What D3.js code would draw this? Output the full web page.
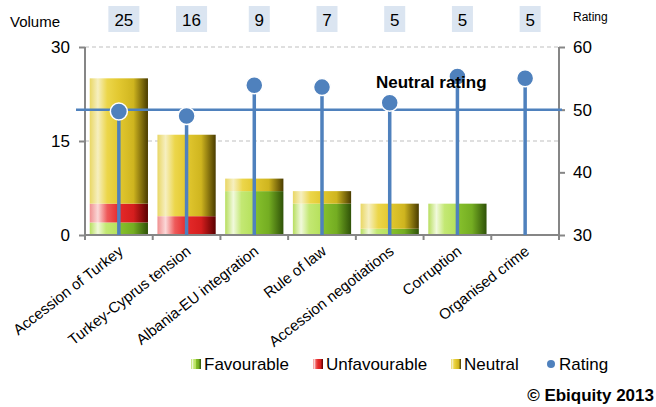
<!DOCTYPE html>
<html>
<head>
<meta charset="utf-8">
<script src="https://cdn.jsdelivr.net/npm/d3@7"></script>
<style>
  body { margin: 0; background: #fff; }
  text { font-family: "Liberation Sans", Arial, sans-serif; fill: #000; }
</style>
</head>
<body>
<script>
var width = 656;
var height = 407;

// data
var categories = ["Accession of Turkey", "Turkey-Cyprus tension", "Albania-EU integration",
                  "Rule of law", "Accession negotiations", "Corruption", "Organised crime"];
var favourable = [2, 0, 7, 5, 1, 5, 0];
var unfavourable = [3, 3, 0, 0, 0, 0, 0];
var neutral = [20, 13, 2, 2, 4, 0, 0];
var volume = [25, 16, 9, 7, 5, 5, 5];
var rating = [49.7, 49.0, 53.9, 53.6, 51.1, 55.3, 55.0];
var neutralRating = 50;
var volumeTicks = [0, 15, 30];
var ratingTicks = [30, 40, 50, 60];

var blue = "#4f81bd";
var plotLeft = 85, plotRight = 559, plotTop = 47, plotBottom = 235;

var svg = d3.select("body").append("svg")
    .attr("width", width)
    .attr("height", height);

// gradients
var defs = svg.append("defs");
function grad(id, stops) {
  var g = defs.append("linearGradient").attr("id", id)
      .attr("x1", "0%").attr("x2", "100%").attr("y1", "0%").attr("y2", "0%");
  stops.forEach(function (s) {
    g.append("stop").attr("offset", s[0]).attr("stop-color", s[1]);
  });
}
grad("gFav", [["0%", "#b7de5e"], ["14%", "#f1f9dc"], ["28%", "#c3e873"], ["50%", "#b5e05a"],
              ["52%", "#86c02c"], ["75%", "#74ad22"], ["100%", "#2f5208"]]);
grad("gUnf", [["0%", "#f09090"], ["14%", "#fbd8d8"], ["30%", "#ee5a5a"], ["50%", "#e52a2a"],
              ["75%", "#d51e1e"], ["100%", "#5a0000"]]);
grad("gNeu", [["0%", "#e9d764"], ["14%", "#f6efc0"], ["30%", "#ecd64a"], ["50%", "#e2c830"],
              ["75%", "#cfb51f"], ["100%", "#4a3c00"]]);

var x = d3.scaleBand().domain(categories).range([plotLeft, plotRight]).paddingInner(0.14).paddingOuter(0.07);
var xb = d3.scaleBand().domain(categories).range([plotLeft, plotRight]);
var y = d3.scaleLinear().domain([0, 30]).range([plotBottom, plotTop]);
var y2 = d3.scaleLinear().domain([30, 60]).range([plotBottom, plotTop]);

// gridlines
svg.append("g").selectAll("line")
    .data(volumeTicks.filter(function (d) { return d > 0; }))
  .enter().append("line")
    .attr("x1", plotLeft).attr("x2", plotRight)
    .attr("y1", function (d) { return y(d); })
    .attr("y2", function (d) { return y(d); })
    .style("stroke", "#bfbfbf")
    .style("stroke-dasharray", "4,3");

// stacked bars
var series = [
  { key: "Favourable", values: favourable, fill: "url(#gFav)" },
  { key: "Unfavourable", values: unfavourable, fill: "url(#gUnf)" },
  { key: "Neutral", values: neutral, fill: "url(#gNeu)" }
];
var base = categories.map(function () { return 0; });
series.forEach(function (s) {
  var rows = categories.map(function (c, i) {
    var r = { cat: c, y0: base[i], y1: base[i] + s.values[i] };
    base[i] = r.y1;
    return r;
  });
  svg.append("g").selectAll("rect")
      .data(rows.filter(function (r) { return r.y1 > r.y0; }))
    .enter().append("rect")
      .attr("x", function (d) { return x(d.cat); })
      .attr("width", x.bandwidth())
      .attr("y", function (d) { return y(d.y1); })
      .attr("height", function (d) { return y(d.y0) - y(d.y1); })
      .style("fill", s.fill);
});

// axes
var axisColor = "#868686";
var yAxis = svg.append("g")
    .attr("transform", "translate(" + plotLeft + ",0)")
    .call(d3.axisLeft(y).tickValues(volumeTicks).tickSize(6).tickPadding(9));
var y2Axis = svg.append("g")
    .attr("transform", "translate(" + plotRight + ",0)")
    .call(d3.axisRight(y2).tickValues(ratingTicks).tickSize(6).tickPadding(8));
var xAxis = svg.append("g")
    .attr("transform", "translate(0," + plotBottom + ")");
xAxis.append("line").attr("x1", plotLeft).attr("x2", plotRight).attr("y1", 0).attr("y2", 0);
xAxis.selectAll(".tk")
    .data(categories.concat(["end"]))
  .enter().append("line")
    .attr("class", "tk")
    .attr("x1", function (d, i) { return plotLeft + i * xb.step(); })
    .attr("x2", function (d, i) { return plotLeft + i * xb.step(); })
    .attr("y1", 0).attr("y2", 5);
xAxis.selectAll("line").style("stroke", axisColor).style("stroke-width", 2);

[yAxis, y2Axis].forEach(function (a) {
  a.select(".domain").remove();
  a.selectAll("line").style("stroke", axisColor).style("stroke-width", 2);
  a.selectAll("text").style("font-size", "17px").style("font-family", "Liberation Sans, Arial, sans-serif");
});
yAxis.append("line").attr("x1", 0).attr("x2", 0).attr("y1", plotTop).attr("y2", plotBottom + 1)
    .style("stroke", axisColor).style("stroke-width", 2);
y2Axis.append("line").attr("x1", 0).attr("x2", 0).attr("y1", plotTop).attr("y2", plotBottom + 1)
    .style("stroke", axisColor).style("stroke-width", 2);

// x labels
svg.append("g").selectAll("text")
    .data(categories)
  .enter().append("text")
    .attr("transform", function (d) {
      return "translate(" + (xb(d) + xb.bandwidth() / 2 + 2) + "," + (plotBottom + 14) + ") rotate(-38)";
    })
    .attr("text-anchor", "end")
    .attr("dy", "0.35em")
    .style("font-size", "15px")
    .text(function (d) { return d; });

// neutral rating line
svg.append("line")
    .attr("x1", 76).attr("x2", plotRight + 3)
    .attr("y1", y2(neutralRating)).attr("y2", y2(neutralRating))
    .style("stroke", blue).style("stroke-width", 2.5);

// rating stems and dots
var cx = function (d, i) { return xb(categories[i]) + xb.bandwidth() / 2; };
svg.append("g").selectAll("line")
    .data(rating)
  .enter().append("line")
    .attr("x1", cx).attr("x2", cx)
    .attr("y1", function (d) { return y2(d); })
    .attr("y2", plotBottom)
    .style("stroke", blue).style("stroke-width", 3.5);
svg.append("g").selectAll("circle")
    .data(rating)
  .enter().append("circle")
    .attr("cx", cx)
    .attr("cy", function (d) { return y2(d); })
    .attr("r", 8.5)
    .style("fill", blue)
    .style("stroke", "#fff")
    .style("stroke-width", 1.5);

svg.append("text")
    .attr("x", 376).attr("y", 88)
    .style("font-size", "17px").style("font-weight", "bold")
    .text("Neutral rating");

// volume boxes
svg.append("text").attr("x", 10).attr("y", 27).style("font-size", "15px").text("Volume");
svg.append("text").attr("x", 573).attr("y", 21).style("font-size", "12px").text("Rating");
var vol = svg.append("g").selectAll("g")
    .data(volume)
  .enter().append("g")
    .attr("transform", function (d, i) { return "translate(" + (cx(d, i) + 5) + ",0)"; });
vol.append("rect")
    .attr("x", function (d) { return String(d).length > 1 ? -15.5 : -10.5; })
    .attr("width", function (d) { return String(d).length > 1 ? 31 : 21; })
    .attr("y", 6).attr("height", 26)
    .style("fill", "#dbe5f1");
vol.append("text")
    .attr("text-anchor", "middle")
    .attr("y", 26)
    .style("font-size", "17px")
    .text(function (d) { return d; });

// legend
var legendItems = [
  { label: "Favourable", fill: "url(#gFav)", x: 191 },
  { label: "Unfavourable", fill: "url(#gUnf)", x: 313 },
  { label: "Neutral", fill: "url(#gNeu)", x: 451 },
  { label: "Rating", fill: null, x: 547 }
];
var lg = svg.append("g").selectAll("g")
    .data(legendItems)
  .enter().append("g")
    .attr("transform", function (d) { return "translate(" + d.x + ",364)"; });
lg.filter(function (d) { return d.fill; }).append("rect")
    .attr("x", 0).attr("y", -5).attr("width", 10).attr("height", 10)
    .style("fill", function (d) { return d.fill; });
lg.filter(function (d) { return !d.fill; }).append("circle")
    .attr("cx", 4).attr("cy", 0).attr("r", 4)
    .style("fill", blue);
lg.append("text")
    .attr("x", function (d) { return d.fill ? 13 : 12; })
    .attr("dy", "0.35em")
    .style("font-size", "17px")
    .text(function (d) { return d.label; });

svg.append("text")
    .attr("x", 654).attr("y", 401)
    .attr("text-anchor", "end")
    .style("font-size", "17px").style("font-weight", "bold")
    .text("© Ebiquity 2013");
</script>
</body>
</html>
